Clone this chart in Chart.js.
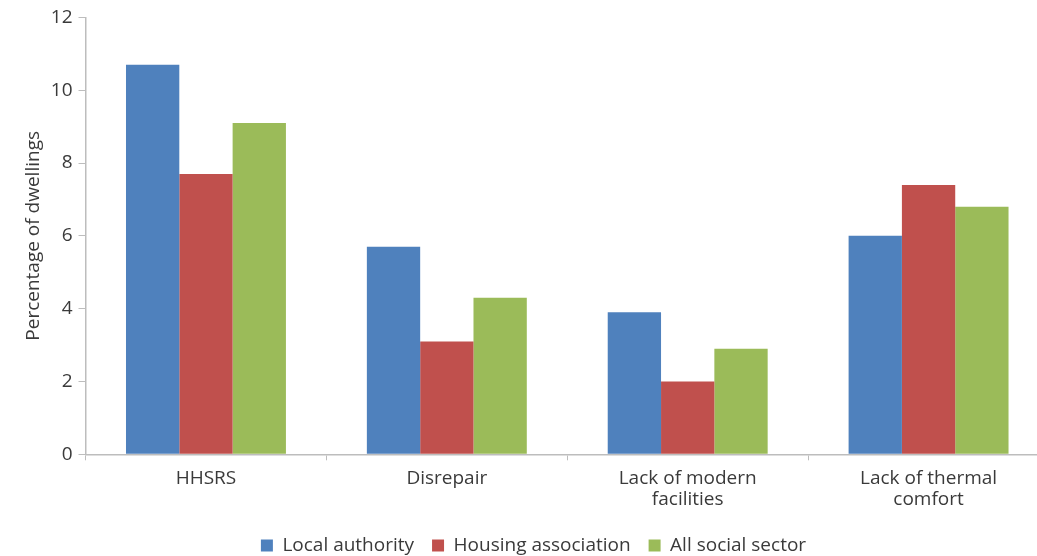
<!DOCTYPE html>
<html>
<head>
<meta charset="utf-8">
<script src="https://cdn.jsdelivr.net/npm/chart.js@4/dist/chart.umd.min.js"></script>
<style>
  html, body { margin: 0; padding: 0; background: #fff; overflow: hidden; }
  #wrap { width: 1050px; height: 556px; }
</style>
</head>
<body>
<div id="wrap"><canvas id="chart"></canvas></div>
<script>
const categories = ["HHSRS", "Disrepair", ["Lack of modern", "facilities"], ["Lack of thermal", "comfort"]];
const localAuthority = [10.7, 5.7, 3.9, 6.0];
const housingAssociation = [7.7, 3.1, 2.0, 7.4];
const allSocialSector = [9.1, 4.3, 2.9, 6.8];
const yTicks = [0, 2, 4, 6, 8, 10, 12];

const textColor = "#3a3a3a";
const axisColor = "#bdbdbd";
const fontFamily = "'Open Sans', 'Noto Sans', sans-serif";
const fontSize = 19;

const ctx = document.getElementById("chart").getContext("2d");
const chart = new Chart(ctx, {
    type: "bar",
    data: {
        labels: categories,
        datasets: [
            { label: "Local authority", data: localAuthority, backgroundColor: "#4f81bd" },
            { label: "Housing association", data: housingAssociation, backgroundColor: "#c0504d" },
            { label: "All social sector", data: allSocialSector, backgroundColor: "#9bbb59" }
        ]
    },
    options: {
        responsive: true,
        maintainAspectRatio: false,
        animation: false,
        categoryPercentage: 0.664,
        barPercentage: 1.0,
        layout: { padding: { top: 5, left: 18, right: 1, bottom: 0 } },
        plugins: {
            legend: {
                position: "bottom",
                labels: {
                    boxWidth: 12,
                    boxHeight: 12,
                    padding: 18,
                    color: textColor,
                    font: { family: fontFamily, size: fontSize }
                }
            },
            tooltip: { enabled: false }
        },
        scales: {
            x: {
                grid: {
                    offset: true,
                    drawOnChartArea: false,
                    drawTicks: true,
                    tickLength: 6,
                    color: axisColor
                },
                border: { color: axisColor, width: 1.5 },
                ticks: {
                    color: textColor,
                    font: { family: fontFamily, size: fontSize, lineHeight: 1.15 },
                    padding: 7,
                    maxRotation: 0
                }
            },
            y: {
                min: yTicks[0],
                max: yTicks[yTicks.length - 1],
                afterBuildTicks: axis => { axis.ticks = yTicks.map(v => ({ value: v })); },
                grid: {
                    drawOnChartArea: false,
                    drawTicks: true,
                    tickLength: 7,
                    color: axisColor
                },
                border: { color: axisColor, width: 1.5 },
                ticks: {
                    color: textColor,
                    font: { family: fontFamily, size: fontSize },
                    padding: 6
                },
                title: {
                    display: true,
                    text: "Percentage of dwellings",
                    color: textColor,
                    font: { family: fontFamily, size: fontSize },
                    padding: { top: 4, bottom: 0 }
                }
            }
        }
    }
});

// keep the legend row close to the bottom edge, as in the original
const baseFit = chart.legend.fit;
chart.legend.fit = function () {
    baseFit.call(this);
    this.height = 38;
};
chart.update();
</script>
</body>
</html>
